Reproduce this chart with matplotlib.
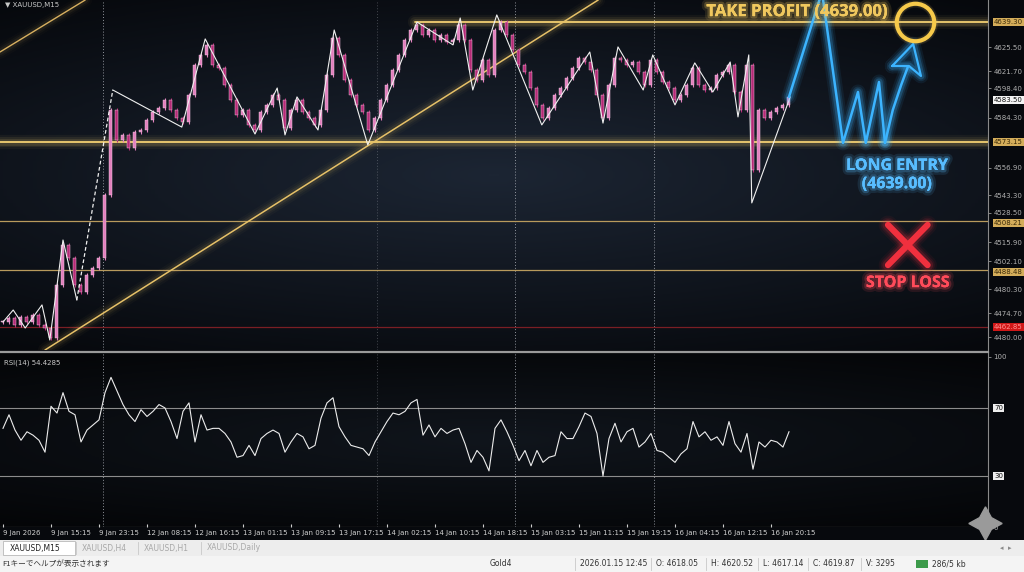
import matplotlib
matplotlib.use('Agg')
import matplotlib.pyplot as plt
import matplotlib.patheffects as pe
from matplotlib.patches import Rectangle
import numpy as np

plt.rcParams['font.family'] = ['DejaVu Sans', 'Noto Sans CJK JP']

# ---- data ----
closes = [4474.4, 4476.6, 4472.8, 4477.2, 4474.4, 4478.3, 4472.8, 4471.1, 4465.6, 4494.8,
          4516.8, 4509.6, 4494.8, 4490.9, 4500.3, 4504.1, 4509.6, 4544.3, 4591.0, 4574.5,
          4577.3, 4570.1, 4578.9, 4580.0, 4585.5, 4589.9, 4592.1, 4596.5, 4591.0, 4586.6,
          4584.4, 4599.3, 4615.8, 4621.3, 4626.8, 4615.8, 4614.1, 4604.8, 4596.5, 4588.3,
          4591.0, 4582.8, 4580.0, 4589.9, 4593.8, 4599.3, 4596.5, 4581.1, 4591.0, 4596.5,
          4589.9, 4586.6, 4582.8, 4591.0, 4610.3, 4630.6, 4621.3, 4607.5, 4599.3, 4593.8,
          4589.9, 4580.0, 4586.6, 4596.5, 4604.8, 4613.0, 4621.3, 4629.5, 4635.0, 4637.8,
          4632.3, 4635.0, 4629.5, 4632.3, 4628.4, 4629.5, 4637.8, 4629.5, 4613.0, 4607.5,
          4618.5, 4610.3, 4635.0, 4639.4, 4632.3, 4624.0, 4615.8, 4611.9, 4603.1, 4593.8,
          4586.6, 4592.1, 4599.3, 4603.1, 4608.6, 4614.1, 4619.6, 4617.4, 4613.0, 4599.3,
          4586.6, 4604.8, 4619.6, 4618.5, 4615.8, 4617.4, 4611.9, 4604.8, 4618.5, 4611.9,
          4606.4, 4603.1, 4596.5, 4599.3, 4604.8, 4614.1, 4604.8, 4602.0, 4603.1, 4610.3,
          4611.9, 4615.8, 4600.9, 4591.0, 4615.8, 4558.0, 4591.0, 4586.6, 4589.9, 4592.1,
          4593.8, 4598.2]

rsi = [58, 66, 57, 51, 56, 54, 51, 44, 71, 67, 79, 68, 66, 50, 57, 60, 63, 79, 88, 80,
       72, 66, 62, 69, 65, 68, 72, 70, 62, 52, 68, 73, 50, 66, 57, 58, 58, 55, 50, 41,
       42, 48, 42, 52, 55, 57, 55, 44, 50, 55, 53, 46, 48, 64, 73, 76, 59, 53, 48, 47,
       46, 42, 50, 56, 62, 67, 66, 68, 73, 75, 54, 60, 53, 58, 55, 57, 58, 49, 38, 45,
       41, 33, 58, 63, 56, 48, 39, 45, 36, 45, 38, 41, 42, 56, 52, 52, 59, 67, 65, 55,
       30, 52, 61, 50, 56, 58, 47, 50, 55, 45, 44, 41, 38, 43, 46, 62, 53, 56, 51, 53,
       48, 62, 49, 44, 55, 34, 50, 47, 51, 50, 47, 56]

zig_x = [0, 1.7, 3.7, 6.5, 7.8, 10, 12.3, 18.3, 29.8, 33.7, 42, 45.7, 47, 49, 52.5, 55.2,
         60.8, 69, 75, 76.2, 78.3, 82.3, 89.8, 97.8, 100, 102.5, 106.7, 108.3, 112, 115.3,
         118.3, 121.2, 122.5, 124.3, 124.8, 131.2]
zig_y = [4474.4, 4481.0, 4471.1, 4483.8, 4464.5, 4519.5, 4486.5, 4602.0, 4581.6, 4630.1,
         4577.8, 4603.1, 4577.3, 4598.2, 4580.0, 4635.0, 4571.8, 4639.4, 4626.8, 4641.6,
         4602.0, 4643.3, 4582.8, 4622.9, 4583.8, 4625.7, 4602.0, 4621.3, 4593.8, 4616.9,
         4600.9, 4617.4, 4587.2, 4621.3, 4539.9, 4598.2]

# projected path (blue) and its arrow
proj_x = [131, 136.5, 140, 142.5, 143.8, 146, 147]
proj_y = [4598.2, 4655.9, 4572.9, 4600.9, 4572.9, 4606.4, 4572.9]
shaft_x = [147, 148.3, 149.7, 150.8]
shaft_y = [4572.9, 4591.0, 4604.8, 4614.6]
head_x = [148.2, 151.7, 153.0, 151.0, 148.2]
head_y = [4615.2, 4627.3, 4609.7, 4615.2, 4615.2]

take_profit = 4639.30
entry_level = 4573.15
thin_levels = [4530.0, 4503.0]
stop_level = 4471.6

trend_a = ([7, 99.2], [4459.0, 4651.5])
trend_b = ([-0.5, 13.7], [4622.9, 4651.5])

separators = [16.7, 62.3, 85.3, 108.5]

time_labels = ['9 Jan 2026', '9 Jan 15:15', '9 Jan 23:15', '12 Jan 08:15', '12 Jan 16:15',
               '13 Jan 01:15', '13 Jan 09:15', '13 Jan 17:15', '14 Jan 02:15', '14 Jan 10:15',
               '14 Jan 18:15', '15 Jan 03:15', '15 Jan 11:15', '15 Jan 19:15', '16 Jan 04:15',
               '16 Jan 12:15', '16 Jan 20:15']

price_ticks = [4625.6, 4612.4, 4603.0, 4586.6, 4559.1, 4544.2, 4534.5, 4518.4, 4507.8,
               4492.5, 4479.3, 4466.1]
price_labels = ['4625.50', '4621.70', '4598.40', '4584.30', '4556.90', '4543.30', '4528.50',
                '4515.90', '4502.10', '4480.30', '4474.70', '4480.00']
gold_tags = [(4639.30, '4639.30'), (4573.15, '4573.15'), (4528.9, '4508.21'), (4502.0, '4488.48')]
current_tag = (4596.3, '4583.50')
stop_tag = (4471.6, '4462.85')

status_items = ['2026.01.15 12:45', 'O: 4618.05', 'H: 4620.52', 'L: 4617.14', 'C: 4619.87', 'V: 3295']
tabs = ['XAUUSD,M15', 'XAUUSD,H4', 'XAUUSD,H1', 'XAUUSD,Daily']

# ---- layout ----
W, H = 1024, 572
fig = plt.figure(figsize=(W / 100, H / 100), dpi=100)
fig.patch.set_facecolor('#07090d')

ax = fig.add_axes([0, 1 - 350 / H, 988 / W, 350 / H])
rax = fig.add_axes([0, 1 - 527 / H, 988 / W, 175 / H])

GOLD = '#f2cf72'
BLUE = '#3cb4ff'
RED = '#f0303e'


def glow(a, x, y, color, lw, strength=1.0, **kw):
    for w, al in [(9, 0.05), (6, 0.08), (3.5, 0.14)]:
        a.plot(x, y, color=color, lw=lw + w, alpha=al * strength, solid_capstyle='round',
               solid_joinstyle='round', **kw)
    a.plot(x, y, color=color, lw=lw, solid_capstyle='round', solid_joinstyle='round', **kw)


# background vignette
yy, xx = np.mgrid[-1:1:200j, -1:1:300j]
vign = 1 - np.clip(np.sqrt((xx * 0.8) ** 2 + (yy * 1.1) ** 2), 0, 1.4) / 1.4
ax.imshow(vign, extent=[0, 1, 0, 1], transform=ax.transAxes,
          cmap=matplotlib.colors.LinearSegmentedColormap.from_list('bg', ['#06080c', '#1c2533']),
          aspect='auto', zorder=-10)
rax.imshow(vign, extent=[0, 1, 0, 1], transform=rax.transAxes,
           cmap=matplotlib.colors.LinearSegmentedColormap.from_list('bg2', ['#040507', '#10151c']),
           aspect='auto', zorder=-10)

xlim = (-0.5, 164.17)
ax.set_xlim(*xlim)
ax.set_ylim(4459.0, 4651.5)
rax.set_xlim(*xlim)
rax.set_ylim(0, 102.9)

# candles
idx = np.arange(len(closes))
opens = [closes[0]] + closes[:-1]
for i, (o, c) in enumerate(zip(opens, closes)):
    col = '#e27fbd' if c >= o else '#b42a76'
    lo, hi = min(o, c), max(o, c)
    ax.vlines(i, lo - 1.2, hi + 1.2, color=col, lw=0.8, zorder=3)
    ax.bar(i, max(hi - lo, 0.6), bottom=lo, width=0.5, color=col, edgecolor='#f4d0e6', lw=0.3, zorder=3)

# zigzag
ax.plot(zig_x[:7], zig_y[:7], color='#f0f0f0', lw=0.8, zorder=4)
ax.plot(zig_x[6:8], zig_y[6:8], color='#f0f0f0', lw=0.9, ls=(0, (3, 2)), zorder=4)
ax.plot(zig_x[7:], zig_y[7:], color='#f0f0f0', lw=0.8, zorder=4)

# levels
glow(ax, [68.7, xlim[1]], [take_profit] * 2, GOLD, 1.3, zorder=2)
glow(ax, list(xlim), [entry_level] * 2, GOLD, 1.3, zorder=2)
for lv in thin_levels:
    ax.plot(xlim, [lv, lv], color='#b89a5c', lw=0.9, zorder=2)
ax.plot(xlim, [stop_level] * 2, color='#7a1e24', lw=0.9, zorder=2)

# trend lines
glow(ax, *trend_a, '#e6c168', 1.1, strength=0.6, zorder=2)
glow(ax, *trend_b, '#d8b060', 1.0, strength=0.5, zorder=2)

for s in separators:
    for a in (ax, rax):
        a.axvline(s, color='#b0b4bc', lw=0.7, ls=(0, (1, 2)), alpha=0.35 if s == 62.3 else 0.8, zorder=1)

# projection with arrow
glow(ax, proj_x, proj_y, BLUE, 1.8, strength=1.6, zorder=6)
glow(ax, shaft_x, shaft_y, BLUE, 1.8, strength=1.6, zorder=6)
ax.fill(head_x, head_y, color='#0b1826', zorder=6)
glow(ax, head_x, head_y, BLUE, 1.6, strength=1.6, zorder=7)

# take profit circle
for mw, al in [(6, 0.06), (5, 0.1)]:
    ax.plot(152, take_profit, 'o', ms=27, mfc='none', mec=GOLD, mew=mw, alpha=al, zorder=6)
ax.plot(152, take_profit, 'o', ms=27, mfc='none', mec='#f6c94a', mew=3, zorder=7)

# stop loss X
glow(ax, [147.5, 154.1], [4527.8, 4505.7], RED, 4.5, strength=1.2, zorder=6)
glow(ax, [154.1, 147.5], [4527.8, 4505.7], RED, 4.5, strength=1.2, zorder=6)


def glow_text(x, y, s, color, size):
    ax.text(x, y, s, color=color, fontsize=size, fontweight='bold', ha='center', va='center', zorder=8,
            family='Open Sans',
            path_effects=[pe.withStroke(linewidth=7, foreground=color, alpha=0.12),
                          pe.withStroke(linewidth=3.5, foreground=color, alpha=0.25), pe.Normal()])


glow_text(132.3, 4645.4, 'TAKE PROFIT (4639.00)', '#f0c85e', 12)
glow_text(149.0, 4560.2, 'LONG ENTRY', '#58bdff', 11.5)
glow_text(149.0, 4550.2, '(4639.00)', '#58bdff', 11.5)
glow_text(150.8, 4495.8, 'STOP LOSS', '#ff4b5a', 11.5)

# RSI
rax.plot(idx, rsi, color='#ececec', lw=0.8, zorder=3)
for lv in (70, 30):
    rax.axhline(lv, color='#8c8c8c', lw=0.8, zorder=2)
rax.axhline(0, color='#9a9a9a', lw=0.8)
rax.text(0.004, 0.955, 'RSI(14) 54.4285', transform=rax.transAxes, color='#c8c8c8', fontsize=5, va='top')
ax.text(0.005, 0.995, '▼ XAUUSD,M15', transform=ax.transAxes, color='#c8c8c8', fontsize=5, va='top')

# axes styling
for a in (ax, rax):
    a.set_facecolor('#0e141d')
    for sp in a.spines.values():
        sp.set_visible(False)
    a.spines['right'].set_visible(True)
    a.spines['right'].set_color('#8a8a8a')
    a.spines['right'].set_linewidth(0.8)
    a.yaxis.tick_right()
    a.tick_params(axis='y', colors='#b0b0b0', labelsize=5, length=2, width=0.5, pad=2)
rax.spines['top'].set_visible(True)
rax.spines['top'].set_color('#9a9a9a')
rax.spines['top'].set_linewidth(1.6)

ax.set_xticks([])
ax.set_yticks(price_ticks)
ax.set_yticklabels(price_labels)

tr = ax.get_yaxis_transform()
for p, lab in gold_tags:
    ax.text(1.006, p, lab, transform=tr, fontsize=5, color='#3a2a08', va='center', ha='left', clip_on=False,
            bbox=dict(boxstyle='square,pad=0.15', fc='#d4ad5a', ec='none'))
ax.text(1.006, current_tag[0], current_tag[1], transform=tr, fontsize=5, color='#111111', va='center',
        ha='left', clip_on=False, bbox=dict(boxstyle='square,pad=0.15', fc='#f4f4f4', ec='none'))
ax.text(1.006, stop_tag[0], stop_tag[1], transform=tr, fontsize=5, color='#ff9090', va='center',
        ha='left', clip_on=False, bbox=dict(boxstyle='square,pad=0.15', fc='#d01818', ec='none'))

rax.set_yticks([100, 0])
rax.set_yticklabels(['100', '0'])
rtr = rax.get_yaxis_transform()
for lv in (70, 30):
    rax.text(1.006, lv, str(lv), transform=rtr, fontsize=5, color='#111111', va='center', ha='left',
             clip_on=False, bbox=dict(boxstyle='square,pad=0.12', fc='#eeeeee', ec='none'))

rax.set_xticks(np.arange(0, 8 * len(time_labels), 8))
rax.set_xticklabels(time_labels, ha='left')
rax.tick_params(axis='x', colors='#d0d0d0', labelsize=5, length=2, direction='in', pad=2)

rax.plot(163.7, 2.4, marker=(4, 1, 0), ms=24, color='#9a9a9a', clip_on=False, zorder=9)

# bottom tab strip and status bar
fig.patches.append(Rectangle((0, 0), 1, 32 / H, transform=fig.transFigure, fc='#ededed', ec='none', zorder=0))
fig.patches.append(Rectangle((0, 0), 1, 16 / H, transform=fig.transFigure, fc='#f4f4f4', ec='none', zorder=0))
fig.patches.append(Rectangle((3 / W, 17 / H), 72 / W, 14 / H, transform=fig.transFigure, fc='#ffffff',
                             ec='#b8b8b8', lw=0.6, zorder=1))
tab_x = [10, 82, 144, 207]
for k, (tx, t) in enumerate(zip(tab_x, tabs)):
    fig.text(tx / W, 24 / H, t, fontsize=5.5, color='#222222' if k == 0 else '#a8a8a8', va='center')
    if k > 0:
        fig.add_artist(plt.Line2D([(tx - 6) / W] * 2, [18 / H, 30 / H], color='#c8c8c8', lw=0.6))
fig.text(2 / W, 8 / H, 'F1キーでヘルプが表示されます', fontsize=5.5, color='#333333', va='center',
         family=['Noto Sans CJK JP', 'DejaVu Sans'])
fig.text(490 / W, 8 / H, 'Gold4', fontsize=5.5, color='#333333', va='center')
for tx, t in zip([580, 656, 711, 763, 813, 866], status_items):
    fig.text(tx / W, 8 / H, t, fontsize=5.5, color='#333333', va='center')
    fig.add_artist(plt.Line2D([(tx - 5) / W] * 2, [2 / H, 14 / H], color='#c8c8c8', lw=0.6))
fig.patches.append(Rectangle((916 / W, 4 / H), 12 / W, 8 / H, transform=fig.transFigure, fc='#3c9a4a', ec='none'))
fig.text(932 / W, 8 / H, '286/5 kb', fontsize=5.5, color='#333333', va='center')
fig.text(1000 / W, 24 / H, '◂  ▸', fontsize=5, color='#888888', va='center')

fig.savefig('out.png', dpi=100, facecolor=fig.get_facecolor())
